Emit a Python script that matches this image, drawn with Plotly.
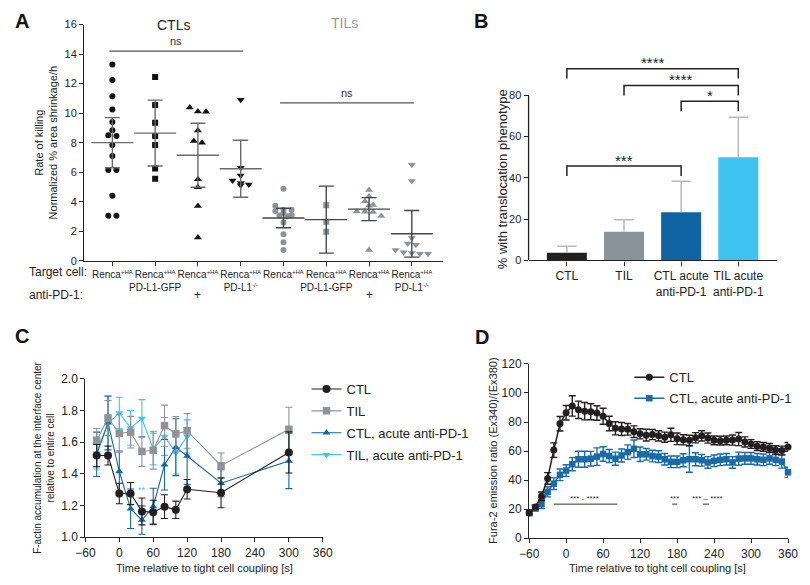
import plotly.graph_objects as go

FONT = "Liberation Sans, Arial, sans-serif"
W, H = 810, 585

def px(xp):
    return xp / W

def py(yp):
    return 1 - yp / H

# ---------------- Panel A data ----------------
SUP = "<sup><span style='font-size:6px'>+HA</span></sup>"
KO = "<sup><span style='font-size:6px'>-/-</span></sup>"
a_labels = ["Renca" + SUP, "Renca" + SUP + "<br>PD-L1-GFP", "Renca" + SUP,
            "Renca" + SUP + "<br>PD-L1" + KO, "Renca" + SUP,
            "Renca" + SUP + "<br>PD-L1-GFP", "Renca" + SUP, "Renca" + SUP + "<br>PD-L1" + KO]
a_anti = ["", "", "+", "", "", "", "+", ""]
a_g1 = [13.3, 12.25, 11.15, 10.25, 9.4, 8.85, 8.5, 8.45, 7.85, 7.1, 6.15, 6.15, 4.4, 3.05, 3.05]
a_g2 = [12.45, 10.55, 9.35, 8.45, 7.85, 6.25, 5.55]
a_g3 = [10.38, 10.12, 10.09, 8.82, 8.12, 7.99, 5.53, 4.98, 3.71, 1.58]
a_g4 = [10.9, 6.3, 5.77, 5.44, 5.27, 5.16, 5.11]
a_g5 = [4.88, 3.72, 3.45, 3.45, 3.37, 3.23, 3.10, 3.06, 3.01, 2.60, 1.80, 1.25, 0.73]
a_g6 = [3.76, 2.64, 1.96]
a_g7 = [4.80, 4.36, 4.03, 3.78, 3.72, 3.34, 3.32, 3.30, 3.04, 0.73]
a_g8 = [6.51, 5.41, 1.54, 1.17, 1.08, 0.73, 0.57, 0.53, 0.48, 0.48]
a_vals = [a_g1, a_g2, a_g3, a_g4, a_g5, a_g6, a_g7, a_g8]
a_mean = [8.0, 8.65, 7.15, 6.23, 2.9, 2.79, 3.5, 1.83]
a_sd = [1.7, 2.23, 2.17, 1.93, 0.66, 2.27, 0.78, 1.58]

# ---------------- Panel B data ----------------
b_cats = ["CTL", "TIL", "CTL acute<br>anti-PD-1", "TIL acute<br>anti-PD-1"]
b_vals = [3.8, 13.9, 23.3, 49.9]
b_err = [3.1, 5.8, 15.0, 19.4]
b_sig = [(0, 3, 92.8, "****"), (1, 3, 84.6, "****"), (2, 3, 77.0, "*"), (0, 2, 45.7, "***")]

# ---------------- Panel C data ----------------
c_t = [-40, -20, 0, 20, 40, 60, 80, 100, 120, 180, 300]
c_ctl = [1.515, 1.515, 1.275, 1.275, 1.162, 1.157, 1.192, 1.172, 1.302, 1.280, 1.535]
c_ctl_err = [0.07, 0.06, 0.065, 0.07, 0.085, 0.075, 0.075, 0.055, 0.062, 0.095, 0.13]
c_til = [1.611, 1.753, 1.656, 1.663, 1.541, 1.549, 1.704, 1.652, 1.671, 1.451, 1.681]
c_til_err = [0.075, 0.11, 0.12, 0.10, 0.095, 0.12, 0.13, 0.11, 0.11, 0.08, 0.14]
c_ctla = [1.523, 1.722, 1.414, 1.179, 1.107, 1.193, 1.457, 1.568, 1.512, 1.340, 1.481]
c_ctla_err = [0.14, 0.17, 0.13, 0.125, 0.09, 0.115, 0.16, 0.18, 0.18, 0.085, 0.175]
c_tila_t = [-40, -20, 0, 20, 40, 60, 80, 100, 120]
c_tila = [1.53, 1.72, 1.784, 1.69, 1.749, 1.557, 1.636, 1.533, 1.636]
c_tila_err = [0.1, 0.17, 0.1, 0.11, 0.12, 0.1, 0.12, 0.135, 0.105]

# ---------------- Panel D data ----------------
d_t = [-60, -50, -40, -30, -20, -10, 0, 10, 20, 30, 40, 50, 60, 70, 80, 90, 100, 110, 120, 130,
       140, 150, 160, 170, 180, 190, 200, 210, 220, 230, 240, 250, 260, 270, 280, 290, 300, 310,
       320, 330, 340, 350, 360]
d_ctl = [17.5, 21.5, 28.9, 41.2, 60.7, 78.8, 86.4, 91.1, 88.4, 87.5, 87.1, 86.2, 84.0, 79.0, 75.7,
         75.2, 75.0, 73.4, 71.9, 71.0, 71.4, 70.5, 69.6, 71.2, 68.5, 67.8, 67.4, 69.2, 70.5, 69.0,
         67.4, 67.2, 67.4, 67.6, 68.3, 66.3, 64.9, 63.4, 62.9, 62.2, 60.7, 60.4, 62.9]
d_ctl_err = [1, 1.5, 3, 4, 5, 5, 5, 7, 6, 6, 5.5, 5, 5.5, 5, 4.5, 4.5, 4, 4, 3.5, 4, 3.5, 3.5, 3.5,
             4.5, 4, 3.5, 3.5, 3.5, 3.5, 3.5, 3, 3, 3, 3.5, 4.5, 3.5, 3, 3, 3, 3, 3, 3, 3]
d_ctla = [17.5, 20.8, 23.5, 32.0, 37.6, 43.7, 46.6, 51.0, 54.4, 54.4, 54.8, 56.2, 58.0, 56.6, 54.8,
          57.0, 59.3, 61.6, 57.8, 57.8, 56.6, 56.2, 54.4, 52.6, 52.6, 53.7, 54.4, 54.4, 53.7, 52.2,
          53.3, 54.0, 54.4, 52.2, 54.8, 55.0, 55.0, 54.4, 54.0, 55.0, 54.0, 52.8, 45.4]
d_ctla_err = [2, 2, 3, 3.5, 4, 4, 4, 4.5, 5.5, 5.5, 5, 6, 5, 4.5, 4.5, 4.5, 5, 6, 5, 4, 4, 4, 4, 4,
              4, 4.5, 9, 4.5, 4, 4, 4, 4, 4, 4, 4.5, 4, 4, 4, 4, 4, 4, 4.5, 3.5]

# ---------------- colours ----------------
C_BLACK = "#231f20"
C_GRAY = "#8b939a"
C_DBLUE = "#0f63a0"
C_LBLUE = "#3fc3f0"

fig = go.Figure()


def swarm(vals, step=0.19, tol=0.3):
    order = sorted(range(len(vals)), key=lambda i: -vals[i])
    offs = [0.0] * len(vals)
    bins = []
    for i in order:
        if bins and bins[-1][0] - vals[i] <= tol:
            bins[-1][1].append(i)
        else:
            bins.append((vals[i], [i]))
    for _, idx in bins:
        n = len(idx)
        for k, i in enumerate(idx):
            offs[i] = (k - (n - 1) / 2) * step
    return offs


# ---------------- Panel A traces ----------------
syms = ["circle", "square", "triangle-up", "triangle-down"]
for g, vals in enumerate(a_vals):
    offs = swarm(vals)
    col = "#111111" if g < 4 else C_GRAY
    lc = "#6a6a6a" if g < 4 else "#454545"
    fig.add_trace(go.Scatter(
        x=[g + 1 + o for o in offs], y=vals, mode="markers",
        marker=dict(symbol=syms[g % 4], size=6 if g % 4 < 2 else 7, color=col, line=dict(width=0)),
        xaxis="x", yaxis="y", showlegend=False, hoverinfo="skip"))
    fig.add_trace(go.Scatter(
        x=[g + 1], y=[a_mean[g]], mode="markers",
        marker=dict(symbol="line-ew", size=30, color=lc, line=dict(width=1.4, color=lc)),
        error_y=dict(type="data", array=[a_sd[g]], color=lc, thickness=1.4, width=7.5),
        xaxis="x", yaxis="y", showlegend=False, hoverinfo="skip"))

# ---------------- Panel B traces ----------------
fig.add_trace(go.Bar(
    x=list(range(len(b_vals))), y=b_vals, width=0.7,
    marker=dict(color=[C_BLACK, C_GRAY, C_DBLUE, C_LBLUE], line=dict(width=0)),
    xaxis="x2", yaxis="y2", showlegend=False, hoverinfo="skip"))
ex, ey = [], []
cap = 0.17
for i, (v, e) in enumerate(zip(b_vals, b_err)):
    ex += [i, i, None, i - cap, i + cap, None]
    ey += [v, v + e, None, v + e, v + e, None]
fig.add_trace(go.Scatter(x=ex, y=ey, mode="lines", line=dict(color="#b9b9b9", width=1.5),
                         xaxis="x2", yaxis="y2", showlegend=False, hoverinfo="skip"))

shapes = []
annotations = []
for i, j, top, lab in b_sig:
    drop = 4.8
    shapes.append(dict(type="path", xref="x2", yref="y2",
                       path=f"M {i},{top - drop} L {i},{top} L {j},{top} L {j},{top - drop}",
                       line=dict(color="#222", width=1.5)))
    annotations.append(dict(x=(i + j) / 2, y=top - 2.2, xref="x2", yref="y2", text=lab,
                            showarrow=False, yanchor="bottom",
                            font=dict(size=15, color="#222", family=FONT)))
# B y-axis line only up to 80
shapes.append(dict(type="line", xref="x2 domain", yref="y2", x0=0, x1=0, y0=0, y1=80,
                   line=dict(color="#222", width=1.3)))

# ---------------- Panel C traces ----------------
c_series = [
    ("CTL", c_t, c_ctl, c_ctl_err, C_BLACK, "circle", 8, 1),
    ("TIL", c_t, c_til, c_til_err, "#8d9399", "square", 7.5, 2),
    ("CTL, acute anti-PD-1", c_t, c_ctla, c_ctla_err, "#1565a3", "triangle-up", 7, 3),
    ("TIL, acute anti-PD-1", c_tila_t, c_tila, c_tila_err, C_LBLUE, "triangle-down", 7, 4),
]
for name, t, v, e, col, sym, sz, rank in reversed(c_series):
    fig.add_trace(go.Scatter(
        x=t, y=v, name=name, mode="lines+markers",
        line=dict(color=col, width=1.1),
        marker=dict(symbol=sym, size=sz, color=col),
        error_y=dict(type="data", array=e, color=col, thickness=1.1, width=3.5),
        xaxis="x3", yaxis="y3", legend="legend", legendrank=rank, legendgroup=name,
        cliponaxis=False, hoverinfo="skip"))
annotations.append(dict(x=40, y=1.255, xref="x3", yref="y3", text="**", showarrow=False,
                        yanchor="bottom", font=dict(size=9, color=C_LBLUE, family=FONT)))

# ---------------- Panel D traces ----------------
d_series = [
    ("CTL", d_ctl, d_ctl_err, C_BLACK, "circle", 7, 1),
    ("CTL, acute anti-PD-1", d_ctla, d_ctla_err, "#1a6aa8", "square", 6.5, 2),
]
for name, v, e, col, sym, sz, rank in reversed(d_series):
    fig.add_trace(go.Scatter(
        x=d_t, y=v, name=name, mode="lines+markers",
        line=dict(color=col, width=1.5),
        marker=dict(symbol=sym, size=sz, color=col),
        error_y=dict(type="data", array=e, color=col, thickness=1.4, width=3.5),
        xaxis="x4", yaxis="y4", legend="legend2", legendrank=rank, legendgroup="d" + name,
        cliponaxis=False, hoverinfo="skip"))

# D significance marks
d_sig_text = [(29, "*** - ****"), (176, "***"), (230, "*** \u2013 ****")]
for t, lab in d_sig_text:
    annotations.append(dict(x=t, y=23.0, xref="x4", yref="y4", text=lab, showarrow=False,
                            yanchor="bottom", font=dict(size=8, color="#333", family=FONT)))
for x0, x1 in [(-20, 83), (172, 180), (222, 232)]:
    shapes.append(dict(type="line", xref="x4", yref="y4", x0=x0, x1=x1, y0=23.5, y1=23.5,
                       line=dict(color="#333", width=1)))

# ---------------- Panel A annotations ----------------
for x0, x1, yv in [(0.93, 4.06, 14.2), (4.92, 8.05, 10.7)]:
    shapes.append(dict(type="line", xref="x", yref="y", x0=x0, x1=x1, y0=yv, y1=yv,
                       line=dict(color="#555", width=1.2)))
    annotations.append(dict(x=(x0 + x1) / 2, y=yv + 0.15, xref="x", yref="y", text="ns",
                            showarrow=False, yanchor="bottom",
                            font=dict(size=11, color="#333", family=FONT)))
for g, s in enumerate(a_anti):
    if s:
        annotations.append(dict(x=g + 1, y=py(295), xref="x", yref="paper", text=s,
                                showarrow=False, font=dict(size=12, color="#222", family=FONT)))

def txt(x, y, text, size, color="#222", xanchor="center", angle=0, bold=False):
    annotations.append(dict(x=px(x), y=py(y), xref="paper", yref="paper",
                            text=("<b>%s</b>" % text) if bold else text, showarrow=False,
                            xanchor=xanchor, yanchor="middle", textangle=angle,
                            font=dict(size=size, color=color, family=FONT)))

txt(3, 14, "A", 20, "#111", "left", bold=True)
txt(474, 14, "B", 20, "#111", "left", bold=True)
txt(3, 337, "C", 20, "#111", "left", bold=True)
txt(475, 338, "D", 20, "#111", "left", bold=True)
txt(168, 18, "CTLs", 14, "#222")
txt(343, 16, "TILs", 14, "#999")
txt(17, 272, "Target cell:", 12, xanchor="left")
txt(17, 295, "anti-PD-1:", 12, xanchor="left")
txt(505, 177, "% with translocation phenotype", 13, angle=-90)
txt(199, 575, "Time relative to tight cell coupling [s]", 11)
txt(664, 575, "Time relative to tight cell coupling [s]", 11)
txt(495, 455, "Fura-2 emission ratio (Ex340)/(Ex380)", 11, angle=-90)

axis_common = dict(showline=True, linecolor="#222", linewidth=1.3, ticks="outside", ticklen=4,
                   tickwidth=1.2, tickcolor="#222", showgrid=False, zeroline=False,
                   tickfont=dict(family=FONT, color="#222"))

fig.update_layout(
    width=W, height=H, margin=dict(l=0, r=0, t=0, b=0),
    paper_bgcolor="white", plot_bgcolor="white",
    font=dict(family=FONT, color="#222"),
    xaxis=dict(axis_common, domain=[px(76), px(444)], range=[0.34, 8.73], anchor="y",
               tickvals=list(range(1, 9)), ticktext=a_labels, tickangle=0,
               tickfont=dict(size=10, family=FONT)),
    yaxis=dict(axis_common, domain=[py(260), py(18)], range=[0, 16], dtick=2, anchor="x",
               tickfont=dict(size=11, family=FONT),
               title=dict(text="Rate of killing<br>Normalized % area shrinkage/h",
                          font=dict(size=11, family=FONT, color="#222"), standoff=4)),
    xaxis2=dict(axis_common, domain=[px(531.7), px(786)], range=[-0.67, 3.67], anchor="y2",
                tickvals=[0, 1, 2, 3], ticktext=b_cats, tickangle=0,
                tickfont=dict(size=12, family=FONT)),
    yaxis2=dict(axis_common, showline=False, domain=[py(259.7), py(56.4)], range=[0, 96],
                tickvals=[0, 20, 40, 60, 80], anchor="x2", tickfont=dict(size=11, family=FONT)),
    xaxis3=dict(axis_common, domain=[px(77.3), px(320.7)], range=[-60, 360], anchor="y3",
                tick0=-60, dtick=60, tickangle=0, tickfont=dict(size=12, family=FONT)),
    yaxis3=dict(axis_common, domain=[py(543), py(381)], range=[1.0, 2.0], dtick=0.2,
                tickformat=".1f", anchor="x3", tickfont=dict(size=12, family=FONT),
                title=dict(text="F-actin accumulation at the interface center<br>relative to entire cell",
                           font=dict(size=10, family=FONT, color="#222"), standoff=4)),
    xaxis4=dict(axis_common, domain=[px(532.3), px(797.7)], range=[-60, 360], anchor="y4",
                tick0=-60, dtick=60, tickangle=0, tickfont=dict(size=12, family=FONT)),
    yaxis4=dict(axis_common, domain=[py(544.3), py(365.7)], range=[0, 120], dtick=20,
                anchor="x4", tickfont=dict(size=12, family=FONT)),
    legend=dict(x=px(304), y=py(376), xanchor="left", yanchor="top", bgcolor="rgba(0,0,0,0)",
                font=dict(size=13, family=FONT, color="#222"), traceorder="grouped",
                tracegroupgap=2, itemwidth=30),
    legend2=dict(x=px(635), y=py(364), xanchor="left", yanchor="top", bgcolor="rgba(0,0,0,0)",
                 font=dict(size=13, family=FONT, color="#222"), traceorder="grouped",
                 tracegroupgap=1, itemwidth=30),
    shapes=shapes, annotations=annotations,
    bargap=0.3,
)

fig.write_html("out.html", config={"displayModeBar": False},
               post_script="document.body.style.margin='0';document.body.style.padding='0';"
                           "document.body.style.overflow='hidden';")
